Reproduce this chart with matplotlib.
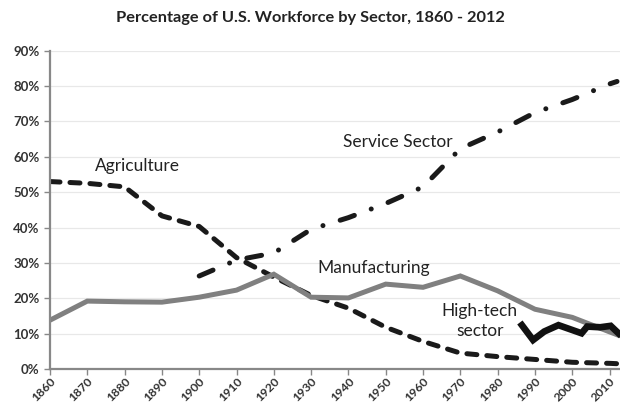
import matplotlib.pyplot as plt
import numpy as np

years = [1860, 1870, 1880, 1890, 1900, 1910, 1920, 1930, 1940, 1950,
         1960, 1970, 1980, 1990, 2000, 2010, 2012]
agriculture = [53.0, 52.5, 51.5, 43.3, 40.3, 31.5, 26.0, 20.8, 17.2, 11.8,
               7.8, 4.5, 3.5, 2.7, 1.9, 1.6, 1.5]
manufacturing = [13.8, 19.2, 19.0, 18.9, 20.3, 22.3, 26.8, 20.3, 20.1, 24.0,
                 23.1, 26.3, 22.1, 16.9, 14.6, 10.5, 9.7]
service_years = [1900, 1910, 1920, 1930, 1940, 1950, 1960, 1970, 1980, 1990,
                 2000, 2010, 2012]
service = [26.3, 30.8, 32.8, 39.5, 42.8, 46.8, 51.5, 62.3, 67.0, 72.5,
           76.2, 80.6, 81.3]
hightech_years = [1986.5, 1989.5, 1992.5, 1996.3, 2002.5, 2004.0, 2007.5,
                  2010.3, 2012.5]
hightech = [12.4, 8.2, 10.6, 12.4, 10.1, 12.0, 11.8, 12.2, 10.0]

plt.rcParams['font.family'] = ['Lato', 'DejaVu Sans']

fig = plt.figure(figsize=(6.2, 4.05), dpi=100)
ax = fig.add_axes([50 / 620, 36 / 405, 570 / 620, 318.3 / 405])

ax.plot(years, agriculture, color='#1a1a1a', lw=3.6, ls=(0, (2.0, 2.0)),
        dash_capstyle='round', solid_capstyle='round')
ax.plot(service_years, service, color='#1a1a1a', lw=3.6,
        ls=(0, (3.0, 3.6, 0.01, 3.6)), dash_capstyle='round')
ax.plot(years, manufacturing, color='#808080', lw=3.6, solid_joinstyle='miter')
ax.plot(hightech_years, hightech, color='#111111', lw=4.8, solid_joinstyle='miter')

lab = dict(fontsize=12.5, color='#222222', va='center')
ax.text(1872, 57.5, 'Agriculture', ha='left', **lab)
ax.text(1938.5, 64.3, 'Service Sector', ha='left', **lab)
ax.text(1931.8, 28.5, 'Manufacturing', ha='left', **lab)
ax.text(1975.2, 13.6, 'High-tech\nsector', ha='center', linespacing=1.3, **lab)

ax.set_xlim(1860, 2012.8)
ax.set_ylim(0, 90)
ax.set_xticks(np.arange(1860, 2011, 10))
ax.set_xticklabels([str(y) for y in range(1860, 2011, 10)], rotation=45,
                   ha='right', rotation_mode='anchor', fontsize=8.8,
                   fontweight='bold', color='#333333')
ax.set_yticks(np.arange(0, 91, 10))
ax.set_yticklabels([f'{v}%' for v in range(0, 91, 10)], fontsize=9.5,
                   fontweight='bold', color='#333333')
ax.tick_params(axis='both', length=4, color='#888888', width=1)
ax.tick_params(axis='x', pad=0.5)
ax.grid(axis='y', color='#e8e8e8', lw=0.9)
ax.set_axisbelow(True)
for s in ['top', 'right']:
    ax.spines[s].set_visible(False)
for s in ['left', 'bottom']:
    ax.spines[s].set_color('#888888')
    ax.spines[s].set_linewidth(1.6)

fig.text(0.5, 0.955, 'Percentage of U.S. Workforce by Sector, 1860 - 2012',
         ha='center', va='center', fontsize=11.8, fontweight='bold', color='#222222')

fig.savefig('out.png', dpi=100)
